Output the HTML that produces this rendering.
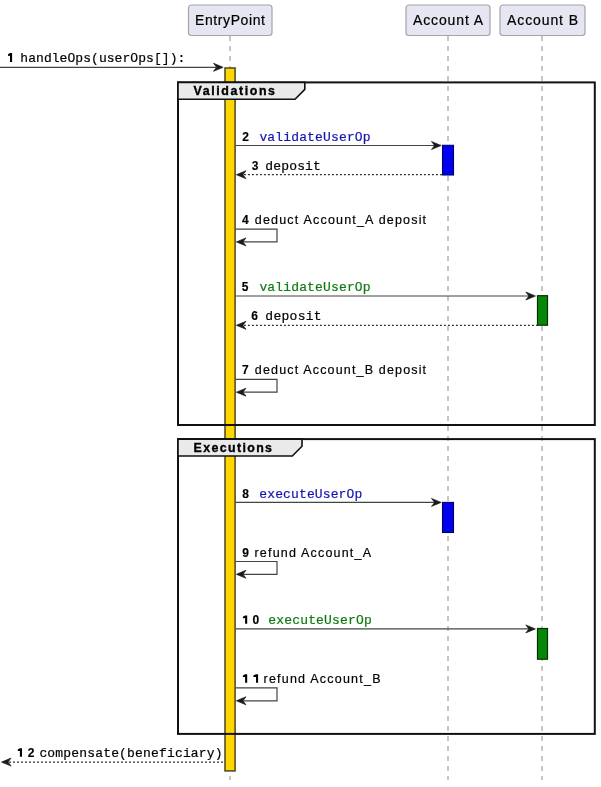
<!DOCTYPE html>
<html><head><meta charset="utf-8">
<style>
html,body{margin:0;padding:0;background:#fff;width:601px;height:787px;overflow:hidden}
svg{display:block;transform:translateZ(0)}
.act{font-family:"Liberation Sans",sans-serif;font-size:14px;fill:#000;stroke:#000;stroke-width:0.2}
.num{font-family:"Liberation Sans",sans-serif;font-size:12px;font-weight:700;fill:#000;stroke:#000;stroke-width:0.15}
.mono{font-family:"Liberation Mono",monospace;font-size:13px;fill:#000;stroke:#000;stroke-width:0.2}
.sans{font-family:"Liberation Sans",sans-serif;font-size:12.5px;fill:#000;stroke:#000;stroke-width:0.2}
.lbl{font-family:"Liberation Sans",sans-serif;font-size:12.4px;font-weight:700;fill:#000;stroke:#000;stroke-width:0.35}
.life{stroke:#aaa;stroke-width:1.3;stroke-dasharray:5 5}
.msg{stroke:#444;stroke-width:1.2;fill:none}
.dot{stroke:#333;stroke-width:1.3;fill:none;stroke-dasharray:2 2}
.ah{fill:#1a1a1a;stroke:#1a1a1a;stroke-width:0.7;stroke-linejoin:round}
</style></head><body>
<svg width="601" height="787" viewBox="0 0 601 787">
<line class="life" x1="230" y1="36" x2="230" y2="780"/>
<line class="life" x1="448" y1="36" x2="448" y2="780"/>
<line class="life" x1="542" y1="36" x2="542" y2="780"/>
<rect x="188.5" y="5" width="83.5" height="30.5" rx="3" fill="#e6e6f3" stroke="#a4a4ac" stroke-width="1.2"/>
<text class="act" x="195" y="25" textLength="70" lengthAdjust="spacing">EntryPoint</text>
<rect x="406" y="5" width="84" height="30.5" rx="3" fill="#e6e6f3" stroke="#a4a4ac" stroke-width="1.2"/>
<text class="act" x="413" y="25" textLength="70" lengthAdjust="spacing">Account A</text>
<rect x="500" y="5" width="85" height="30.5" rx="3" fill="#e6e6f3" stroke="#a4a4ac" stroke-width="1.2"/>
<text class="act" x="507" y="25" textLength="71" lengthAdjust="spacing">Account B</text>
<rect x="225" y="68" width="10.1" height="702.9" fill="#ffd700" stroke="#55502e" stroke-width="1.6"/>
<rect x="442.5" y="145.3" width="11" height="29.7" fill="#0000ee" stroke="#00006a" stroke-width="1.1"/>
<rect x="537.5" y="295.7" width="10" height="29.5" fill="#078707" stroke="#003000" stroke-width="1.2"/>
<rect x="442.5" y="502.4" width="11" height="30.1" fill="#0000ee" stroke="#00006a" stroke-width="1.1"/>
<rect x="537.5" y="628.5" width="10" height="30.7" fill="#078707" stroke="#003000" stroke-width="1.2"/>
<rect x="178" y="82.4" width="416.8" height="342.6" fill="none" stroke="#111" stroke-width="2"/>
<path d="M178 82.4 H304.8 V89.3 L295 99.2 H178 Z" fill="#eaeaea" stroke="#111" stroke-width="1.6"/>
<text class="lbl" x="193.5" y="95.2" textLength="81.5" lengthAdjust="spacing">Validations</text>
<rect x="178" y="439.1" width="416.8" height="294.8" fill="none" stroke="#111" stroke-width="2"/>
<path d="M178 439.1 H302 V446.2 L292.3 456 H178 Z" fill="#eaeaea" stroke="#111" stroke-width="1.6"/>
<text class="lbl" x="193.5" y="452" textLength="78.5" lengthAdjust="spacing">Executions</text>
<line class="msg" x1="0" y1="67.3" x2="216" y2="67.3"/>
<path class="ah" d="M223.1 67.3 L213.5 63.3 L216.6 67.3 L213.5 71.3 Z"/>
<path fill="#000" d="M10.00 53.1 H12.1 V62 H10.00 V55.80 L8.40 55.90 L8 55.60 V54.50 L8.40 54.10 Z"/>
<text class="mono" x="20.3" y="62" textLength="165" lengthAdjust="spacing">handleOps(userOps[]):</text>
<line class="msg" x1="235.5" y1="145.5" x2="435" y2="145.5"/>
<path class="ah" d="M441.1 145.5 L431.5 141.5 L434.6 145.5 L431.5 149.5 Z"/>
<text class="num" x="242.3" y="140.7">2</text>
<text class="mono" x="259.4" y="140.7" style="fill:#1414b0;stroke:#1414b0" textLength="111.2" lengthAdjust="spacing">validateUserOp</text>
<line class="dot" x1="441.9" y1="174.7" x2="243" y2="174.7"/>
<path class="ah" d="M236.4 174.7 L246.0 170.7 L242.9 174.7 L246.0 178.7 Z"/>
<text class="num" x="251.8" y="169.7">3</text>
<text class="mono" x="265.3" y="169.7" textLength="55.6" lengthAdjust="spacing">deposit</text>
<path class="msg" d="M235.5 229.1 H277 V241.9 H243"/>
<path class="ah" d="M236.4 241.9 L246.0 237.9 L242.9 241.9 L246.0 245.9 Z"/>
<text class="num" x="242" y="223.6">4</text>
<text class="sans" x="254.8" y="223.6" textLength="171.3" lengthAdjust="spacing">deduct Account_A deposit</text>
<line class="msg" x1="235.5" y1="296" x2="529" y2="296"/>
<path class="ah" d="M535.4 296 L525.8 292 L528.9 296 L525.8 300 Z"/>
<text class="num" x="241.8" y="290.9">5</text>
<text class="mono" x="259.4" y="290.9" style="fill:#0f7a0f;stroke:#0f7a0f" textLength="111.2" lengthAdjust="spacing">validateUserOp</text>
<line class="dot" x1="537.9" y1="325.3" x2="243" y2="325.3"/>
<path class="ah" d="M236.4 325.3 L246.0 321.3 L242.9 325.3 L246.0 329.3 Z"/>
<text class="num" x="251.2" y="319.6">6</text>
<text class="mono" x="265.3" y="319.6" textLength="56.3" lengthAdjust="spacing">deposit</text>
<path class="msg" d="M235.5 379.3 H277 V392.2 H243"/>
<path class="ah" d="M236.4 392.2 L246.0 388.2 L242.9 392.2 L246.0 396.2 Z"/>
<text class="num" x="242" y="373.8">7</text>
<text class="sans" x="254.8" y="373.8" textLength="171.3" lengthAdjust="spacing">deduct Account_B deposit</text>
<line class="msg" x1="235.5" y1="502.4" x2="435" y2="502.4"/>
<path class="ah" d="M441.1 502.4 L431.5 498.4 L434.6 502.4 L431.5 506.4 Z"/>
<text class="num" x="242.3" y="497.8">8</text>
<text class="mono" x="259.3" y="497.8" style="fill:#1414b0;stroke:#1414b0" textLength="103" lengthAdjust="spacing">executeUserOp</text>
<path class="msg" d="M235.5 561.5 H277 V574.3 H243"/>
<path class="ah" d="M236.4 574.3 L246.0 570.3 L242.9 574.3 L246.0 578.3 Z"/>
<text class="num" x="242.3" y="556.9">9</text>
<text class="sans" x="254.5" y="556.9" textLength="116.5" lengthAdjust="spacing">refund Account_A</text>
<line class="msg" x1="235.5" y1="628.9" x2="529" y2="628.9"/>
<path class="ah" d="M535.4 628.9 L525.8 624.9 L528.9 628.9 L525.8 632.9 Z"/>
<path fill="#000" d="M245.10 615.4 H247.2 V623.7 H245.10 V618.10 L243.30 618.20 L242.9 617.90 V616.80 L243.30 616.40 Z"/>
<text class="num" x="252.6" y="623.7">0</text>
<text class="mono" x="268.3" y="623.7" style="fill:#0f7a0f;stroke:#0f7a0f" textLength="103.4" lengthAdjust="spacing">executeUserOp</text>
<path class="msg" d="M235.5 687.8 H277 V700.8 H243"/>
<path class="ah" d="M236.4 700.8 L246.0 696.8 L242.9 700.8 L246.0 704.8 Z"/>
<path fill="#000" d="M245.10 674.3 H247.2 V682.8 H245.10 V677.00 L243.30 677.10 L242.9 676.80 V675.70 L243.30 675.30 Z"/>
<path fill="#000" d="M256.00 674.3 H258.1 V682.8 H256.00 V677.00 L253.70 677.10 L253.3 676.80 V675.70 L253.70 675.30 Z"/>
<text class="sans" x="263.5" y="682.8" textLength="117" lengthAdjust="spacing">refund Account_B</text>
<line class="dot" x1="223" y1="762.1" x2="8" y2="762.1"/>
<path class="ah" d="M1.5 762.1 L11.1 758.1 L8.0 762.1 L11.1 766.1 Z"/>
<path fill="#000" d="M19.90 748.3 H22 V756.8 H19.90 V751.00 L18.10 751.10 L17.7 750.80 V749.70 L18.10 749.30 Z"/>
<text class="num" x="27.7" y="756.8">2</text>
<text class="mono" x="39.4" y="756.7" textLength="183.2" lengthAdjust="spacing">compensate(beneficiary)</text>
</svg>
</body></html>
